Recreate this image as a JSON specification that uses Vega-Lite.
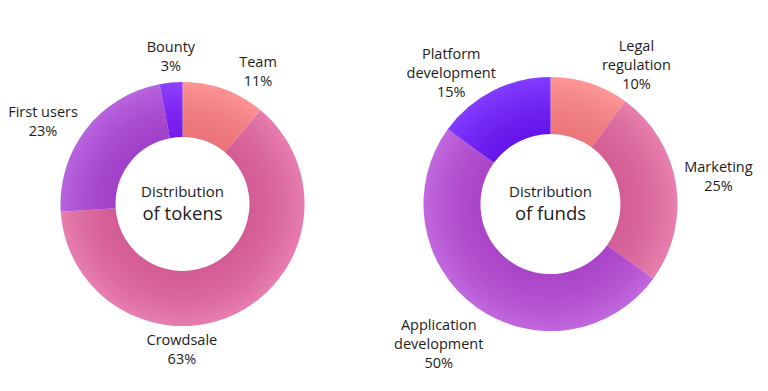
{
  "$schema": "https://vega.github.io/schema/vega-lite/v6.json",
  "background": "white",
  "padding": {"left": 5, "top": 19, "right": 0, "bottom": 0},
  "config": {
    "view": {"stroke": null},
    "text": {"font": "Open Sans", "fontSize": 14.5, "color": "#1c1c1c", "lineHeight": 19}
  },
  "datasets": {
    "tokens": [
      {"k": 1, "category": "Team", "value": 11, "label": "Team\n11%"},
      {"k": 2, "category": "Crowdsale", "value": 63, "label": "Crowdsale\n63%"},
      {"k": 3, "category": "First users", "value": 23, "label": "First users\n23%"},
      {"k": 4, "category": "Bounty", "value": 3, "label": "Bounty\n3%"}
    ],
    "funds": [
      {"k": 1, "category": "Legal regulation", "value": 10, "label": "Legal\nregulation\n10%"},
      {"k": 2, "category": "Marketing", "value": 25, "label": "Marketing\n25%"},
      {"k": 3, "category": "Application development", "value": 50, "label": "Application\ndevelopment\n50%"},
      {"k": 4, "category": "Platform development", "value": 15, "label": "Platform\ndevelopment\n15%"}
    ],
    "ring": [{"value": 100}]
  },
  "spacing": 13,
  "resolve": {"scale": {"color": "independent", "theta": "independent"}},
  "hconcat": [
    {
      "width": 355,
      "height": 370,
      "layer": [
        {
          "data": {"name": "tokens"},
          "mark": {"type": "arc", "innerRadius": 67, "outerRadius": 122},
          "encoding": {
            "theta": {"field": "value", "type": "quantitative", "stack": true, "scale": {"domain": [0, 100]}},
            "order": {"field": "k", "type": "quantitative"},
            "color": {"field": "category", "type": "nominal", "legend": null,
              "scale": {"domain": ["Team", "Crowdsale", "First users", "Bounty"],
                        "range": ["#fd7f80", "#e3659f", "#ab46d9", "#7a1cff"]}}
          }
        },
        {
          "data": {"name": "ring"},
          "mark": {"type": "arc", "innerRadius": 67, "outerRadius": 122,
            "color": {"gradient": "radial", "x1": 0.5, "y1": 0.5, "r1": 0, "x2": 0.5, "y2": 0.5, "r2": 0.5,
              "stops": [
                {"offset": 0, "color": "rgba(60,0,40,0.09)"},
                {"offset": 0.55, "color": "rgba(60,0,40,0.09)"},
                {"offset": 1, "color": "rgba(255,255,255,0.16)"}
              ]}},
          "encoding": {
            "theta": {"field": "value", "type": "quantitative", "stack": true}
          }
        },
        {
          "data": {"name": "tokens"},
          "transform": [
            {"stack": "value", "groupby": [], "sort": [{"field": "k", "order": "ascending"}], "as": ["v0", "v1"]},
            {"calculate": "(datum.v0 + datum.v1) / 2", "as": "mid"},
            {"filter": "datum.k == 1"}
          ],
          "mark": {"type": "text", "radius": 155, "align": "center", "baseline": "middle", "lineBreak": "\n", "dx": 23, "dy": 5},
          "encoding": {
            "theta": {"field": "mid", "type": "quantitative"},
            "text": {"field": "label", "type": "nominal"}
          }
        },
        {
          "data": {"name": "tokens"},
          "transform": [
            {"stack": "value", "groupby": [], "sort": [{"field": "k", "order": "ascending"}], "as": ["v0", "v1"]},
            {"calculate": "(datum.v0 + datum.v1) / 2", "as": "mid"},
            {"filter": "datum.k == 2"}
          ],
          "mark": {"type": "text", "radius": 155, "align": "center", "baseline": "middle", "lineBreak": "\n", "dx": -71, "dy": -1},
          "encoding": {
            "theta": {"field": "mid", "type": "quantitative"},
            "text": {"field": "label", "type": "nominal"}
          }
        },
        {
          "data": {"name": "tokens"},
          "transform": [
            {"stack": "value", "groupby": [], "sort": [{"field": "k", "order": "ascending"}], "as": ["v0", "v1"]},
            {"calculate": "(datum.v0 + datum.v1) / 2", "as": "mid"},
            {"filter": "datum.k == 3"}
          ],
          "mark": {"type": "text", "radius": 155, "align": "center", "baseline": "middle", "lineBreak": "\n", "dx": -17, "dy": 4},
          "encoding": {
            "theta": {"field": "mid", "type": "quantitative"},
            "text": {"field": "label", "type": "nominal"}
          }
        },
        {
          "data": {"name": "tokens"},
          "transform": [
            {"stack": "value", "groupby": [], "sort": [{"field": "k", "order": "ascending"}], "as": ["v0", "v1"]},
            {"calculate": "(datum.v0 + datum.v1) / 2", "as": "mid"},
            {"filter": "datum.k == 4"}
          ],
          "mark": {"type": "text", "radius": 155, "align": "center", "baseline": "middle", "lineBreak": "\n", "dx": 3, "dy": -2},
          "encoding": {
            "theta": {"field": "mid", "type": "quantitative"},
            "text": {"field": "label", "type": "nominal"}
          }
        },
        {
          "data": {"values": [{"t": "Distribution"}]},
          "mark": {"type": "text", "fontSize": 15, "dy": -12, "align": "center", "baseline": "middle"},
          "encoding": {"text": {"field": "t", "type": "nominal"}}
        },
        {
          "data": {"values": [{"t": "of tokens"}]},
          "mark": {"type": "text", "fontSize": 18.5, "dy": 10, "align": "center", "baseline": "middle"},
          "encoding": {"text": {"field": "t", "type": "nominal"}}
        }
      ]
    },
    {
      "width": 355,
      "height": 370,
      "layer": [
        {
          "data": {"name": "funds"},
          "mark": {"type": "arc", "innerRadius": 70, "outerRadius": 127},
          "encoding": {
            "theta": {"field": "value", "type": "quantitative", "stack": true, "scale": {"domain": [0, 100]}},
            "order": {"field": "k", "type": "quantitative"},
            "color": {"field": "category", "type": "nominal", "legend": null,
              "scale": {"domain": ["Legal regulation", "Marketing", "Application development", "Platform development"],
                        "range": ["#fd8283", "#e3679f", "#b64bd8", "#6a17ff"]}}
          }
        },
        {
          "data": {"name": "ring"},
          "mark": {"type": "arc", "innerRadius": 70, "outerRadius": 127,
            "color": {"gradient": "radial", "x1": 0.5, "y1": 0.5, "r1": 0, "x2": 0.5, "y2": 0.5, "r2": 0.5,
              "stops": [
                {"offset": 0, "color": "rgba(60,0,40,0.09)"},
                {"offset": 0.55, "color": "rgba(60,0,40,0.09)"},
                {"offset": 1, "color": "rgba(255,255,255,0.16)"}
              ]}},
          "encoding": {
            "theta": {"field": "value", "type": "quantitative", "stack": true}
          }
        },
        {
          "data": {"name": "funds"},
          "transform": [
            {"stack": "value", "groupby": [], "sort": [{"field": "k", "order": "ascending"}], "as": ["v0", "v1"]},
            {"calculate": "(datum.v0 + datum.v1) / 2", "as": "mid"},
            {"filter": "datum.k == 1"}
          ],
          "mark": {"type": "text", "radius": 168, "align": "center", "baseline": "middle", "lineBreak": "\n", "dx": 34, "dy": 3},
          "encoding": {
            "theta": {"field": "mid", "type": "quantitative"},
            "text": {"field": "label", "type": "nominal"}
          }
        },
        {
          "data": {"name": "funds"},
          "transform": [
            {"stack": "value", "groupby": [], "sort": [{"field": "k", "order": "ascending"}], "as": ["v0", "v1"]},
            {"calculate": "(datum.v0 + datum.v1) / 2", "as": "mid"},
            {"filter": "datum.k == 2"}
          ],
          "mark": {"type": "text", "radius": 168, "align": "center", "baseline": "middle", "lineBreak": "\n", "dx": 2, "dy": -10},
          "encoding": {
            "theta": {"field": "mid", "type": "quantitative"},
            "text": {"field": "label", "type": "nominal"}
          }
        },
        {
          "data": {"name": "funds"},
          "transform": [
            {"stack": "value", "groupby": [], "sort": [{"field": "k", "order": "ascending"}], "as": ["v0", "v1"]},
            {"calculate": "(datum.v0 + datum.v1) / 2", "as": "mid"},
            {"filter": "datum.k == 3"}
          ],
          "mark": {"type": "text", "radius": 168, "align": "center", "baseline": "middle", "lineBreak": "\n", "dx": -13, "dy": -14},
          "encoding": {
            "theta": {"field": "mid", "type": "quantitative"},
            "text": {"field": "label", "type": "nominal"}
          }
        },
        {
          "data": {"name": "funds"},
          "transform": [
            {"stack": "value", "groupby": [], "sort": [{"field": "k", "order": "ascending"}], "as": ["v0", "v1"]},
            {"calculate": "(datum.v0 + datum.v1) / 2", "as": "mid"},
            {"filter": "datum.k == 4"}
          ],
          "mark": {"type": "text", "radius": 168, "align": "center", "baseline": "middle", "lineBreak": "\n", "dx": -23, "dy": 1},
          "encoding": {
            "theta": {"field": "mid", "type": "quantitative"},
            "text": {"field": "label", "type": "nominal"}
          }
        },
        {
          "data": {"values": [{"t": "Distribution"}]},
          "mark": {"type": "text", "fontSize": 15, "dy": -12, "align": "center", "baseline": "middle"},
          "encoding": {"text": {"field": "t", "type": "nominal"}}
        },
        {
          "data": {"values": [{"t": "of funds"}]},
          "mark": {"type": "text", "fontSize": 18.5, "dy": 10, "align": "center", "baseline": "middle"},
          "encoding": {"text": {"field": "t", "type": "nominal"}}
        }
      ]
    }
  ]
}
